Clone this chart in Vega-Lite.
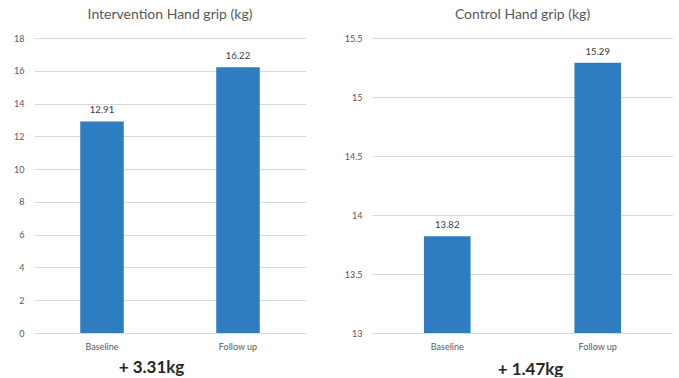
{
  "$schema": "https://vega.github.io/schema/vega-lite/v6.json",
  "background": "white",
  "padding": {"left": 13, "top": 8, "right": 0, "bottom": 0},
  "spacing": 38,
  "datasets": {
    "intervention": [
      {"period": "Baseline", "grip": 12.91},
      {"period": "Follow up", "grip": 16.22}
    ],
    "control": [
      {"period": "Baseline", "grip": 13.82},
      {"period": "Follow up", "grip": 15.29}
    ]
  },
  "config": {
    "font": "Lato",
    "view": {"stroke": null},
    "title": {"fontSize": 14, "fontWeight": "normal", "color": "#595959", "offset": 12},
    "axis": {
      "labelFont": "Lato",
      "labelFontSize": 9,
      "labelColor": "#595959",
      "domain": false,
      "ticks": false,
      "gridColor": "#d9d9d9",
      "gridWidth": 1
    }
  },
  "hconcat": [
    {
      "width": 272,
      "height": 295,
      "title": "Intervention Hand grip (kg)",
      "data": {"name": "intervention"},
      "encoding": {
        "x": {
          "field": "period",
          "type": "nominal",
          "scale": {"paddingInner": 0.68, "paddingOuter": 0.34},
          "axis": {
            "labelAngle": 0,
            "labelPadding": 9,
            "grid": false,
            "title": "+ 3.31kg",
            "titleFontSize": 17,
            "titleFontWeight": "bold",
            "titleColor": "#262626",
            "titlePadding": 8,
            "titleX": 117
          }
        },
        "y": {
          "field": "grip",
          "type": "quantitative",
          "scale": {"domain": [0, 18]},
          "axis": {"values": [0, 2, 4, 6, 8, 10, 12, 14, 16, 18], "labelPadding": 10, "title": null}
        }
      },
      "layer": [
        {"mark": {"type": "bar", "color": "#2E7DC0"}},
        {
          "mark": {"type": "text", "baseline": "bottom", "dy": -6, "fontSize": 9.5, "color": "#3a3a3a"},
          "encoding": {"text": {"field": "grip", "type": "quantitative", "format": ".2f"}}
        }
      ]
    },
    {
      "width": 301,
      "height": 295,
      "title": "Control Hand grip (kg)",
      "data": {"name": "control"},
      "encoding": {
        "x": {
          "field": "period",
          "type": "nominal",
          "scale": {"paddingInner": 0.69, "paddingOuter": 0.345},
          "axis": {
            "labelAngle": 0,
            "labelPadding": 9,
            "grid": false,
            "title": "+ 1.47kg",
            "titleFontSize": 17,
            "titleFontWeight": "bold",
            "titleColor": "#262626",
            "titlePadding": 10,
            "titleX": 158
          }
        },
        "y": {
          "field": "grip",
          "type": "quantitative",
          "scale": {"domain": [13, 15.5], "zero": false, "nice": false},
          "axis": {"values": [13, 13.5, 14, 14.5, 15, 15.5], "format": "~g", "labelPadding": 10, "title": null}
        }
      },
      "layer": [
        {
          "mark": {"type": "bar", "color": "#2E7DC0"},
          "encoding": {"y2": {"datum": 13}}
        },
        {
          "mark": {"type": "text", "baseline": "bottom", "dy": -6, "fontSize": 9.5, "color": "#3a3a3a"},
          "encoding": {"text": {"field": "grip", "type": "quantitative", "format": ".2f"}}
        }
      ]
    }
  ]
}
